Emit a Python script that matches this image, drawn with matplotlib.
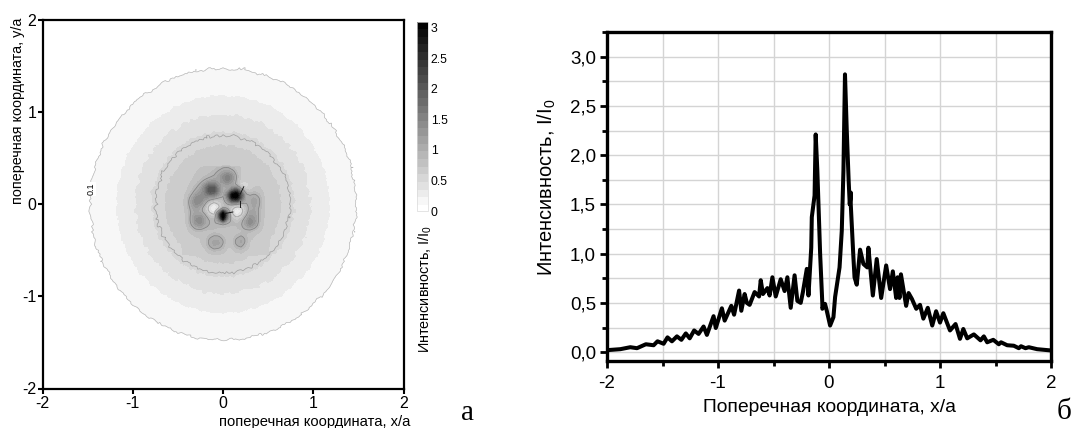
import numpy as np
import matplotlib
matplotlib.use("Agg")
import matplotlib.pyplot as plt

plt.rcParams['font.family'] = ['Liberation Sans', 'DejaVu Sans']
plt.rcParams['mathtext.fontset'] = 'custom'
plt.rcParams['mathtext.rm'] = 'Liberation Sans'

W, H = 1083, 428

# profile of the map against radius, read by eye
radius = [0, 0.5, 0.62, 0.75, 0.9, 1.0, 1.15, 1.3, 1.48, 1.6, 1.8, 2.9]
radial_i = [0.68, 0.66, 0.62, 0.50, 0.40, 0.33, 0.24, 0.16, 0.10, 0.05, 0.0, 0.0]

# edge wobble of the rings, 3 degree steps
edge_wobble = [
    .012, -.008, .015, -.004, .02, .002, -.012, .008, -.018, .004, .016, -.01,
    .006, .022, -.006, .012, -.015, .005, .018, -.002, .01, -.02, .003, .014,
    -.009, .02, .001, -.016, .009, .017, -.005, .011, -.013, .024, .002, -.01,
    .015, -.003, .008, -.017, .012, .02, -.007, .004, -.014, .016, .006, -.011,
    .019, -.004, .01, -.019, .007, .013, -.008, .021, .001, -.015, .011, -.002,
    .017, -.012, .005, .023, -.006, .009, -.018, .013, .003, -.01, .02, -.005,
    .008, -.016, .015, .002, -.009, .018, -.013, .006, .012, -.004, .022, -.011,
    .003, .016, -.017, .009, -.002, .014, -.008, .02, .004, -.014, .01, .017,
    -.006, .007, -.012, .019, .001, -.016, .013, -.003, .011, .021, -.009, .005,
    -.015, .018, .002, -.007, .014, -.011, .008, .016, -.005, .01, -.013, .004]

# centre of the map, read on a 0.05 grid
centre_x = np.arange(20) * 0.05 - 0.45
centre_y = 0.40 - np.arange(20) * 0.05
centre_i = [
    [.66, .66, .68, .70, .72, .75, .78, .80, .85, .90, .92, .85, .78, .72, .70, .72, .72, .70, .68, .66],
    [.66, .68, .70, .72, .75, .78, .82, .88, 1.00, 1.15, 1.20, 1.08, .85, .72, .72, .72, .72, .70, .68, .66],
    [.66, .68, .70, .74, .78, .85, .90, .98, 1.15, 1.40, 1.65, 1.40, .95, .72, .70, .72, .72, .70, .68, .66],
    [.66, .68, .72, .78, .88, 1.00, 1.15, 1.20, 1.15, 1.30, 1.50, 1.25, .90, .62, .60, .65, .70, .72, .68, .66],
    [.66, .70, .76, .88, 1.05, 1.40, 1.85, 1.85, 1.30, 1.10, 1.10, 1.05, .90, .55, .50, .60, .70, .72, .68, .66],
    [.66, .72, .82, 1.00, 1.20, 1.60, 2.25, 2.25, 1.50, 1.05, 1.05, 1.70, 2.30, 1.30, .75, .72, .80, .75, .70, .66],
    [.68, .76, .95, 1.25, 1.35, 1.45, 1.60, 1.55, 1.20, 1.00, 1.70, 3.30, 3.50, 2.30, 1.05, .95, 1.00, .88, .72, .66],
    [.68, .82, 1.15, 1.45, 1.50, 1.25, 1.00, .85, .80, .85, 1.30, 2.40, 2.70, 1.70, 1.05, 1.10, 1.20, 1.00, .74, .66],
    [.68, .82, 1.15, 1.40, 1.30, .95, .50, .30, .50, .80, .90, .95, .85, .80, .90, 1.05, 1.15, .98, .74, .66],
    [.68, .78, 1.02, 1.15, 1.00, .75, .32, .15, .32, .85, .85, .50, .22, .32, .75, 1.05, 1.10, .92, .74, .66],
    [.68, .75, 1.00, 1.15, 1.10, .90, .55, .40, 1.80, 3.50, 1.80, .50, .22, .38, .80, 1.15, 1.15, .92, .74, .66],
    [.68, .75, 1.05, 1.35, 1.45, 1.15, .90, .85, 1.50, 3.50, 1.40, .80, .55, .75, 1.05, 1.35, 1.25, .92, .72, .66],
    [.66, .75, 1.02, 1.35, 1.45, 1.15, .95, .95, .95, 1.05, .95, .90, .85, .92, 1.20, 1.50, 1.30, .88, .72, .66],
    [.66, .72, .88, 1.05, 1.10, .98, .90, .88, .85, .85, .82, .82, .85, .92, 1.05, 1.15, 1.00, .82, .70, .66],
    [.66, .68, .74, .80, .80, .78, .78, .80, .78, .74, .72, .74, .78, .80, .85, .82, .76, .72, .68, .66],
    [.65, .68, .70, .72, .72, .76, .90, .98, .98, .85, .72, .74, .88, .98, .88, .76, .72, .70, .68, .65],
    [.65, .66, .68, .70, .72, .80, 1.02, 1.15, 1.15, .98, .76, .80, 1.05, 1.15, .95, .72, .70, .68, .66, .65],
    [.64, .65, .66, .68, .70, .76, .98, 1.12, 1.10, .92, .72, .76, .95, 1.02, .85, .70, .68, .66, .65, .64],
    [.63, .64, .65, .66, .68, .70, .80, .88, .85, .80, .70, .70, .78, .80, .72, .68, .66, .65, .64, .63],
    [.62, .63, .64, .65, .66, .67, .68, .70, .70, .68, .66, .66, .66, .67, .66, .65, .64, .63, .62, .62]]

# little black contour bits next to the two dark spots
bit_x = [[.23, .19], [.185, .185], [.026, .11]]
bit_y = [[.19, .11], [.04, -.03], [-.10, -.084]]

# cross section, right panel
section_x = [
    -2.0, -1.88, -1.79, -1.73, -1.65, -1.58, -1.545, -1.49, -1.455, -1.415, -1.37, -1.33,
    -1.29, -1.255, -1.215, -1.175, -1.13, -1.10, -1.04, -1.02, -.965, -.94, -.88, -.855,
    -.81, -.79, -.76, -.74, -.715, -.67, -.63, -.615, -.595, -.555, -.535, -.51, -.48,
    -.435, -.40, -.375, -.345, -.31, -.285, -.255, -.235, -.20, -.185, -.16, -.155, -.13,
    -.12, -.105, -.09, -.08, -.06, -.06, -.036, -.02, .01, .04, .055, .095, .115, .13,
    .144, .16, .177, .187, .196, .196, .22, .23, .25, .28, .31, .345, .355, .395, .43,
    .47, .515, .55, .575, .605, .618, .635, .648, .695, .717, .747, .786, .82, .85, .89,
    .93, .965, 1.0, 1.03, 1.09, 1.14, 1.18, 1.21, 1.245, 1.305, 1.365, 1.395, 1.425,
    1.48, 1.53, 1.55, 1.605, 1.665, 1.71, 1.73, 1.77, 1.80, 1.875, 2.0]
section_y = [
    .02, .03, .05, .04, .08, .07, .11, .085, .15, .11, .16, .125,
    .19, .14, .22, .185, .26, .175, .365, .245, .445, .32, .47, .38,
    .625, .42, .59, .50, .48, .61, .565, .73, .59, .65, .575, .76, .565,
    .74, .62, .76, .45, .78, .52, .50, .61, .845, .575, 1.06, 1.37, 1.59,
    2.21, 1.84, 1.34, 1.0, .49, .44, .49, .42, .27, .355, .56, .86, 1.23, 1.84,
    2.82, 2.25, 1.74, 1.5, 1.62, 1.50, .96, .76, .685, 1.04, .895, .86, 1.06, .575, .945,
    .55, .88, .64, .82, .55, .76, .55, .79, .47, .60, .54, .44, .48, .34, .45,
    .27, .415, .30, .395, .22, .285, .135, .235, .14, .18, .12, .16, .10,
    .125, .08, .10, .07, .065, .04, .06, .04, .05, .03, .017]

map_ticks = [-2, -1, 0, 1, 2]
bar_ticks = [0, 0.5, 1, 1.5, 2, 2.5, 3]
bar_labels = ['0', '0.5', '1', '1.5', '2', '2.5', '3']
sec_yticks = [0, 0.5, 1, 1.5, 2, 2.5, 3]
sec_ylabels = ['0,0', '0,5', '1,0', '1,5', '2,0', '2,5', '3,0']


def box(x0, y0, x1, y1):
    # pixel box, y measured from the top
    return [x0 / W, 1 - y1 / H, (x1 - x0) / W, (y1 - y0) / H]


def px_text(x, y, s, **kw):
    fig.text(x / W, 1 - y / H, s, ha=kw.pop('ha', 'center'), va=kw.pop('va', 'center'), **kw)


fig = plt.figure(figsize=(W / 100, H / 100), dpi=100)

# --- map ---
grid_x = np.linspace(-2, 2, 201)
xx, yy = np.meshgrid(grid_x, grid_x)
rr = np.hypot(xx, yy)
ang = np.degrees(np.arctan2(yy, xx)) % 360
wob_list = edge_wobble + edge_wobble[:1]
wob = 0.5 * np.interp(ang, np.arange(0, 363, 3), wob_list)
wob += 0.6 * np.interp((ang * 11 + rr * 500) % 360, np.arange(0, 363, 3), wob_list)
wob[rr < 1.05] *= 2.2  # inner ring is rougher than the outer one
field = np.interp(rr * (1 + wob), radius, radial_i)

c_arr = np.array(centre_i)
rows = np.array([np.interp(grid_x, centre_x, r) for r in c_arr])
fine = np.array([np.interp(grid_x, centre_y[::-1], rows[::-1, j]) for j in range(len(grid_x))]).T
inside = (xx >= centre_x[0]) & (xx <= centre_x[-1]) & (yy >= centre_y[-1]) & (yy <= centre_y[0])
kernel = np.ones(3) / 3
field[inside] = np.apply_along_axis(lambda a: np.convolve(a, kernel, mode='same'), 0, fine)[inside]
field = np.clip(field, 0, 3.09)

levels = np.r_[0, np.arange(0.1, 3.11, 0.125)]
shades = [str(max(0.0, 1 - lv / 3.0)) for lv in levels[:-1]]
shades[0] = '1.0'

ax1 = fig.add_axes(box(42.5, 20, 403.5, 388.5))
cf = ax1.contourf(xx, yy, field, levels=levels, colors=shades)
ax1.contour(xx, yy, field, levels=[0.1], colors='0.72', linewidths=0.5)
ax1.contour(xx, yy, field, levels=[0.5], colors='0.62', linewidths=0.5)
ax1.contour(xx, yy, field, levels=[0.95], colors='0.5', linewidths=0.5)
for bx, by in zip(bit_x, bit_y):
    ax1.plot(bx, by, color='0.1', lw=0.7)
ax1.text(-1.46, 0.17, '0.1', rotation=90, fontsize=6.5, ha='center', va='center',
         bbox=dict(fc='white', ec='none', pad=0.5))
ax1.set_xlim(-2, 2)
ax1.set_ylim(-2, 2)
ax1.set_xticks(map_ticks)
ax1.set_yticks(map_ticks)
ax1.set_xticklabels([str(t) for t in map_ticks])
ax1.set_yticklabels([str(t) for t in map_ticks])
ax1.tick_params(width=1.5, length=3.5, labelsize=11.5, pad=2)
ax1.tick_params(axis='y', pad=1)
for s in ax1.spines.values():
    s.set_linewidth(1.6)

px_text(314.5, 422, 'поперечная координата, x/a', fontsize=10.6)
px_text(18, 111, 'поперечная координата, y/a', fontsize=10.4, rotation=90)

# --- colour bar ---
cax = fig.add_axes(box(416.5, 21.5, 428, 211))
cb = fig.colorbar(cf, cax=cax, spacing='proportional')
cb.set_ticks(bar_ticks)
cb.set_ticklabels(bar_labels)
cb.ax.tick_params(length=0, labelsize=8.8, pad=2)
cb.outline.set_edgecolor('0.85')
cb.outline.set_linewidth(0.5)
cax.set_ylim(0, 3.1)
px_text(425, 289, 'Интенсивность, I/I$_0$', fontsize=10.4, rotation=90)

# --- cross section ---
ax2 = fig.add_axes(box(607, 32, 1051, 361))
ax2.set_xlim(-2, 2)
ax2.set_ylim(-0.09, 3.25)
ax2.set_xticks(map_ticks)
ax2.set_xticklabels([str(t) for t in map_ticks])
ax2.set_xticks([-1.5, -0.5, 0.5, 1.5], minor=True)
ax2.set_yticks(sec_yticks)
ax2.set_yticklabels(sec_ylabels)
ax2.set_yticks([0.25, 0.75, 1.25, 1.75, 2.25, 2.75, 3.25], minor=True)
ax2.grid(True, which='both', color='0.83', lw=1.0)
ax2.set_axisbelow(True)
ax2.plot(section_x, section_y, color='black', lw=2.9, solid_joinstyle='round')
ax2.tick_params(which='major', width=2, length=5, labelsize=13.5, pad=3)
ax2.tick_params(axis='x', which='major', pad=5)
ax2.tick_params(which='minor', width=2, length=3.5)
for s in ax2.spines.values():
    s.set_linewidth(2.4)

px_text(829, 407, 'Поперечная координата, x/a', fontsize=13.9)
px_text(547, 187, 'Интенсивность, I/I$_0$', fontsize=14.4, rotation=90)

# panel letters
px_text(468, 413, 'а', fontsize=21, family='Liberation Serif')
px_text(1064, 412, 'б', fontsize=21, family='Liberation Serif')

fig.savefig('out.png', dpi=100)
